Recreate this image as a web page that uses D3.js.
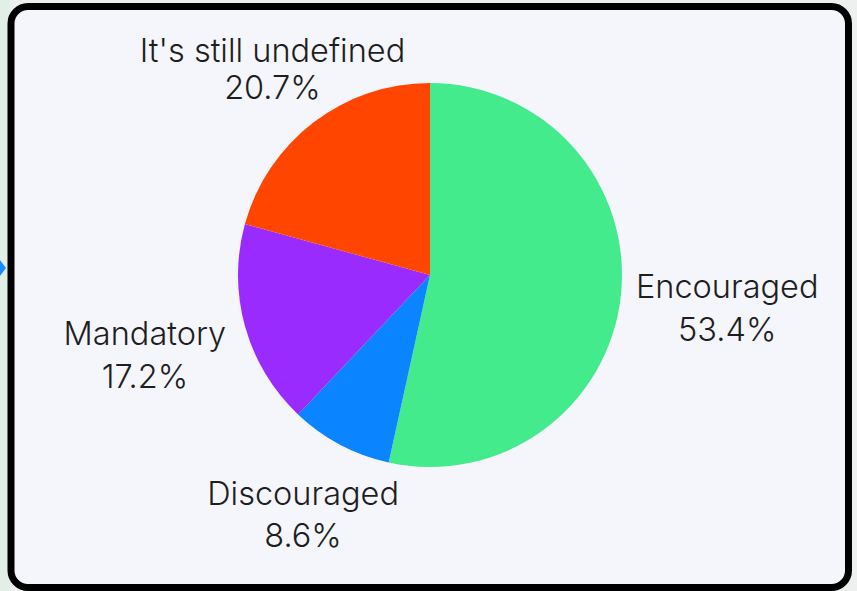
<!DOCTYPE html>
<html>
<head>
<meta charset="utf-8">
<script src="https://cdn.jsdelivr.net/npm/d3@7"></script>
<style>
  html, body { margin: 0; padding: 0; background: #edf0ee; }
  svg { display: block; }
</style>
</head>
<body>
<svg id="chart" width="857" height="591"></svg>
<script>
// Survey answers and their shares (%)
const categories = ["Encouraged", "Discouraged", "Mandatory", "It's still undefined"];
const shares = [53.4, 8.6, 17.2, 20.7];
const valueLabels = ["53.4%", "8.6%", "17.2%", "20.7%"];
const colors = ["#44eb8d", "#0a85ff", "#9a2bfe", "#ff4500"];

// Label placement: distance of each label block from the pie centre, and gap between its two lines
const labelDistance = [299, 271, 296, 260];
const lineGap = [43, 42, 43, 37];

const W = 857, H = 591;
const cx = 430, cy = 275, radius = 192;
const capHeight = 24;

const svg = d3.select("#chart");

// Outer page strip on the left
svg.append("rect").attr("x", 0).attr("y", 0).attr("width", 10).attr("height", H).attr("fill", "#e1efe7");
svg.append("path")
  .attr("d", "M0,260 L6,268 L0,276 Z")
  .attr("fill", "#1a8cff");

// Card
svg.append("rect")
  .attr("x", 11).attr("y", 6.5)
  .attr("width", 837.5).attr("height", 581)
  .attr("rx", 17).attr("ry", 17)
  .attr("fill", "#f5f5fc")
  .attr("stroke", "#000")
  .attr("stroke-width", 7);

const data = categories.map((c, i) => ({ category: c, value: shares[i], label: valueLabels[i], color: colors[i], i }));

const pie = d3.pie().sort(null).value(d => d.value).startAngle(0).endAngle(2 * Math.PI);
const arc = d3.arc().innerRadius(0).outerRadius(radius);
const arcs = pie(data);

const g = svg.append("g").attr("transform", `translate(${cx},${cy})`);

g.selectAll("path.slice")
  .data(arcs)
  .join("path")
  .attr("class", "slice")
  .attr("d", arc)
  .attr("fill", d => d.data.color);

// Outside labels along each slice's mid-angle
const labels = g.selectAll("g.label")
  .data(arcs)
  .join("g")
  .attr("class", "label")
  .attr("transform", d => {
    const a = (d.startAngle + d.endAngle) / 2;
    const r = labelDistance[d.data.i];
    return `translate(${Math.sin(a) * r},${-Math.cos(a) * r})`;
  })
  .attr("font-family", "Inter, 'Noto Sans', sans-serif")
  .attr("font-size", 32.5)
  .attr("font-weight", 300)
  .attr("fill", "#1e1e1e")
  .attr("text-anchor", "middle");

labels.append("text")
  .attr("y", d => (capHeight - lineGap[d.data.i]) / 2)
  .text(d => d.data.category);

labels.append("text")
  .attr("y", d => (capHeight - lineGap[d.data.i]) / 2 + lineGap[d.data.i])
  .text(d => d.data.label);
</script>
</body>
</html>
